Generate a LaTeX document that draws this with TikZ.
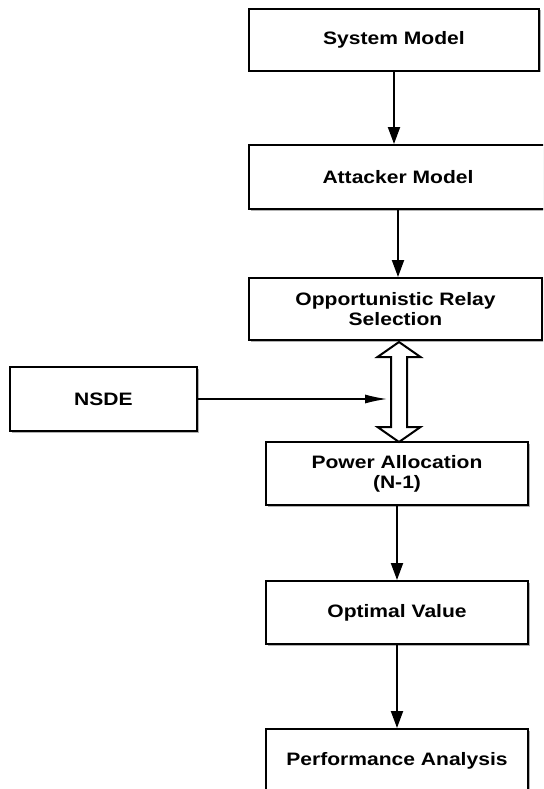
\documentclass[tikz,border=0pt]{standalone}
\usepackage{fontspec}
\setmainfont{Liberation Sans}[FakeStretch=1.17]
\usetikzlibrary{arrows.meta,shadows}
\tikzstyle{blk}=[draw, line width=2pt, fill=white, inner sep=0, align=center,
  font=\fontsize{18}{20}\selectfont\bfseries,
  drop shadow={shadow xshift=1.5pt, shadow yshift=-1.5pt, opacity=0.3, fill=black}]
\tikzstyle{arr}=[line width=2pt, -{Triangle[length=17pt,width=12pt]}]

\begin{document}
\begin{tikzpicture}[x=1pt,y=-1pt]
\useasboundingbox (0,0) rectangle (543,789);
\clip (0,0) rectangle (543,789);
% main chain
\node[blk, minimum width=290, minimum height=62] (sm) at (394,40) {System Model};
\node[blk, minimum width=298, minimum height=64] (am) at (398,177) {Attacker Model};
\node[blk, minimum width=293, minimum height=62] (ors) at (395.5,309) {Opportunistic Relay\\Selection};
\node[blk, minimum width=262, minimum height=63] (pa) at (397,473.5) {Power Allocation\\(N-1)};
\node[blk, minimum width=262, minimum height=63] (ov) at (397,612.5) {Optimal Value};
\node[blk, minimum width=262, minimum height=64] (pf) at (397,761) {Performance Analysis};
\node[blk, minimum width=187, minimum height=64] (nsde) at (103.5,399) {NSDE};
\foreach \a/\b in {sm/am,am/ors,pa/ov,ov/pf}{\draw[arr] (\a.south) -- (\a.south |- \b.north);}
% two-way arrow between ors and pa
\path (ors.south) ++(3.5,1) coordinate (dtop);
\draw[line width=2pt, fill=white] (dtop) -- ++(21.5,15) -- ++(-13.5,0) -- ++(0,70) -- ++(13.5,0)
  -- ++(-21.5,15) -- ++(-21.5,-15) -- ++(13.5,0) -- ++(0,-70) -- ++(-13.5,0) -- cycle;
\coordinate (nin) at (387,399);
\draw[line width=1.3pt, -{Latex[length=22pt,width=9pt]}] (nsde.east) -- (nin);
\end{tikzpicture}
\end{document}
